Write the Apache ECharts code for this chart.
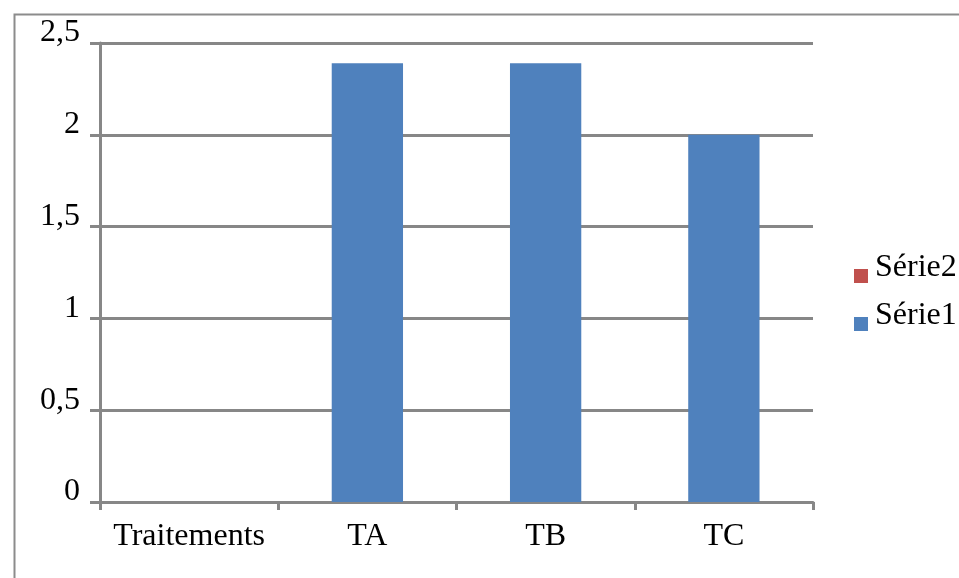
<!DOCTYPE html>
<html>
<head>
<meta charset="utf-8">
<script src="https://cdn.jsdelivr.net/npm/echarts@6/dist/echarts.min.js"></script>
<style>
  html, body { margin: 0; padding: 0; background: #fff; }
  #chart { width: 959px; height: 578px; }
</style>
</head>
<body>
<div id="chart"></div>
<script>
// Categories along the horizontal axis
const categories = ['Traitements', 'TA', 'TB', 'TC'];
// Series values (first category carries no value)
const serie1 = [null, 2.39, 2.39, 2.0];
const serie2 = [null, null, null, null];
// Vertical axis scale
const yMin = 0;
const yMax = 2.5;
const yStep = 0.5;

const FONT = 'Liberation Serif';
const GRAY = '#878787';

// Legend key: a small square placed low inside a taller item box,
// so the key lines up with the text baseline
const LEGEND_ICON = 'path://M0,0L0.01,0L0,0.01Z M0,19L14,19L14,33L0,33Z M0,36L0.01,36L0,35.99Z';

const chart = echarts.init(document.getElementById('chart'), null, { renderer: 'canvas' });

chart.setOption({
  backgroundColor: '#ffffff',
  animation: false,
  graphic: [{
    type: 'rect',
    left: 12, top: 12,
    shape: { width: 1000, height: 1000 },
    style: { fill: 'none', stroke: '#8c8c8c', lineWidth: 2 },
    silent: true
  }],
  legend: {
    data: ['Série2', 'Série1'],
    orient: 'vertical',
    left: 854,
    top: 250,
    padding: 0,
    itemWidth: 14,
    itemHeight: 36,
    itemGap: 12,
    icon: LEGEND_ICON,
    textStyle: {
      fontFamily: FONT,
      fontSize: 32,
      color: '#000',
      padding: [0, 0, 0, 2]
    },
    itemStyle: { borderWidth: 0 }
  },
  grid: { left: 100, right: 146, top: 43, bottom: 76, containLabel: false },
  xAxis: {
    type: 'category',
    data: categories,
    axisLine: { lineStyle: { color: GRAY, width: 3 } },
    axisTick: { show: true, length: 8, lineStyle: { color: GRAY, width: 3 } },
    axisLabel: {
      interval: 0,
      margin: 19,
      fontFamily: FONT,
      fontSize: 32,
      color: '#000'
    }
  },
  yAxis: {
    type: 'value',
    min: yMin,
    max: yMax,
    interval: yStep,
    axisLine: { show: true, lineStyle: { color: GRAY, width: 3 } },
    axisTick: { show: true, length: 10, lineStyle: { color: GRAY, width: 3 } },
    splitLine: { lineStyle: { color: GRAY, width: 3 } },
    axisLabel: {
      margin: 20,
      fontFamily: FONT,
      fontSize: 32,
      color: '#000',
      verticalAlign: 'bottom',
      lineHeight: 20,
      formatter: v => String(v).replace('.', ',')
    }
  },
  series: [
    {
      name: 'Série1',
      type: 'bar',
      stack: 'total',
      data: serie1,
      barWidth: '40%',
      itemStyle: { color: '#4f81bd' }
    },
    {
      name: 'Série2',
      type: 'bar',
      stack: 'total',
      data: serie2,
      barWidth: '40%',
      itemStyle: { color: '#c0504d' }
    }
  ]
});
</script>
</body>
</html>
